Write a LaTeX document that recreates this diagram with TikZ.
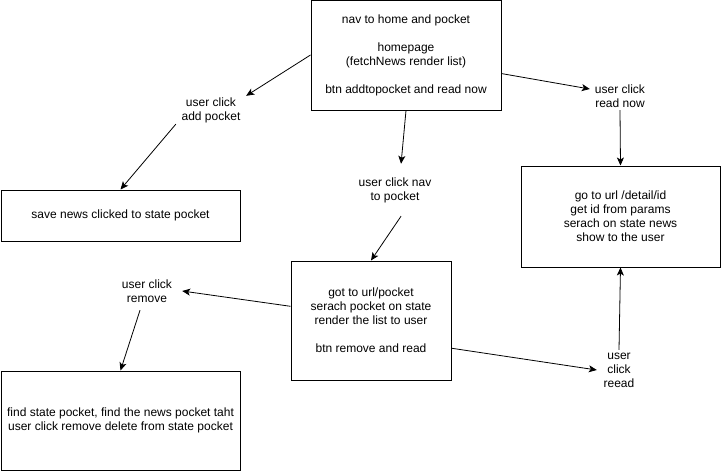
\documentclass[tikz,border=0pt]{standalone}
\usepackage{fontspec}
\setmainfont{Liberation Sans}
\usepackage{tikz}
\usetikzlibrary{arrows.meta,shapes}
\tikzstyle{box}=[rectangle,draw,line width=1pt,align=center,inner sep=0pt,font=\fontsize{12}{14}\selectfont]
\tikzstyle{note}=[rectangle,align=center,inner sep=0pt,font=\fontsize{12}{14}\selectfont]
\tikzstyle{edge} = [draw,line width=0.8pt,-{Stealth[length=8pt,width=7pt,inset=2pt]}]

\begin{document}
\begin{tikzpicture}[x=1pt,y=-1pt]

    \useasboundingbox (0,0) rectangle (721,471);

    % boxes
    \foreach \x/\y/\name/\w/\h/\label in {
        406/55/home/190pt/110pt/{nav to home and pocket\\[14pt]homepage\\(fetchNews render list)\\[14pt]btn addtopocket and read now},
        120.5/215.5/save/239pt/51pt/{save news clicked to state pocket},
        620.5/216.5/detail/199pt/101pt/{go to url /detail/id\\get id from params\\serach on state news\\show to the user},
        371/320.5/pocket/160pt/119pt/{got to url/pocket\\serach pocket on state\\render the list to user\\[14pt]btn remove and read},
        120.5/420.5/remove/239pt/99pt/{find state pocket, find the news pocket taht\\user click remove delete from state pocket}}
        \node[box,minimum width=\w,minimum height=\h] (\name) at (\x,\y) {\label};

    % labels on the way
    \foreach \x/\y/\name/\w/\h/\label in {
        211/110/addlbl/70pt/28pt/{user click\\add pocket},
        395/190/navlbl/80pt/52pt/{user click nav\\to pocket},
        620/96/readlbl/60pt/28pt/{user click\\read now},
        147/291/rmlbl/70pt/38pt/{user click\\remove},
        619/370/reeadlbl/44pt/40pt/{user\\click\\reead}}
        \node[note,minimum width=\w,minimum height=\h] (\name) at (\x,\y) {\label};

    % Connect boxes with edges
    \foreach \source/ \dest in {home.west/addlbl.north east, addlbl.south west/save.north,
        home.south/navlbl.77, navlbl.-77/pocket.north,
        home.-11/readlbl.167, readlbl.south/detail.north,
        pocket.170/rmlbl.east, rmlbl.250/remove.north,
        pocket.-19/reeadlbl.west, reeadlbl.north/detail.south}
        \draw[edge] (\source) -- (\dest);

\end{tikzpicture}
\end{document}
